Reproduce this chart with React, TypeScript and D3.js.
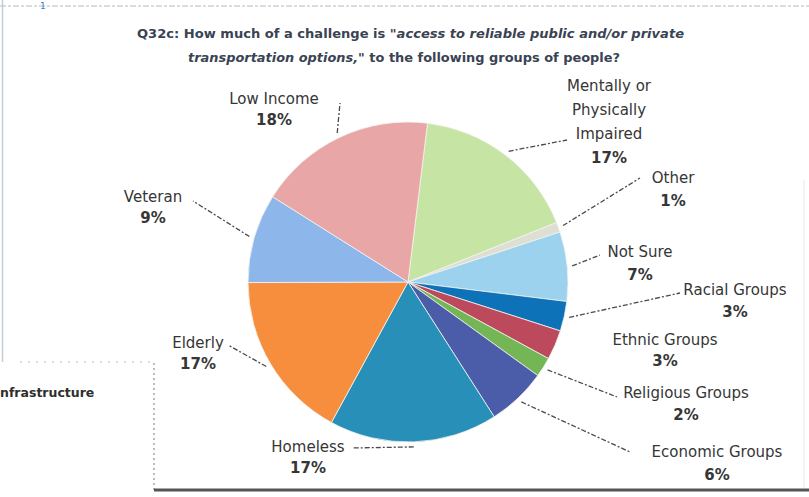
import React from "react";
import * as d3 from "d3";

const categories = [
  "Mentally or Physically Impaired",
  "Other",
  "Not Sure",
  "Racial Groups",
  "Ethnic Groups",
  "Religious Groups",
  "Economic Groups",
  "Homeless",
  "Elderly",
  "Veteran",
  "Low Income",
];
const values = [17, 1, 7, 3, 3, 2, 6, 17, 17, 9, 18];
const labelLines = [
  ["Mentally or", "Physically", "Impaired"],
  ["Other"],
  ["Not Sure"],
  ["Racial Groups"],
  ["Ethnic Groups"],
  ["Religious Groups"],
  ["Economic Groups"],
  ["Homeless"],
  ["Elderly"],
  ["Veteran"],
  ["Low Income"],
];

const colors = [
  "#c6e4a3", "#dcdfd2", "#9dd2ee", "#0d72b8", "#bd4a5c", "#74b655",
  "#4b5da8", "#2890b8", "#f68e3e", "#8db7eb", "#e9a6a6",
];

// label layout: [x center, first baseline, line gap, leader end x, leader end y, showLeader]
const labelLayout: [number, number, number, number, number, boolean][] = [
  [609, 91, 24, 567, 140, true],
  [673, 183, 23, 640, 178, true],
  [640, 257, 23, 600, 255, true],
  [735, 295, 22, 680, 293, true],
  [665, 345, 21, 0, 0, false],
  [686, 398, 22, 617, 397, true],
  [717, 457, 23, 630, 452, true],
  [308, 452, 21, 352, 448, true],
  [198, 348, 21, 228, 345, true],
  [153, 202, 21, 193, 201, true],
  [274, 104, 21, 340, 103, true],
];

const W = 809;
const H = 497;
const cx = 408;
const cy = 282;
const R = 160;
const startDeg = 7;

export default function App() {
  const pie = d3
    .pie<number>()
    .sort(null)
    .startAngle((startDeg * Math.PI) / 180)
    .endAngle((startDeg * Math.PI) / 180 + 2 * Math.PI)
    .value((d) => d);
  const arcs = pie(values);
  const arc = d3.arc<d3.PieArcDatum<number>>().innerRadius(0).outerRadius(R);
  const font = "'DejaVu Sans', Verdana, sans-serif";

  return (
    <svg
      width={W}
      height={H}
      style={{ position: "absolute", left: 0, top: 0, background: "#fff" }}
    >
      {/* scan artifacts / page elements */}
      <line x1={0} x2={W} y1={6} y2={6} stroke="#b4b8c0" strokeWidth={1} strokeDasharray="6 2 3 2" />
      <text x={40} y={9} fontSize={9} fill="#3a7fd0" fontFamily={font}>1</text>
      <line x1={2.5} x2={2.5} y1={0} y2={362} stroke="#c4ccd6" strokeWidth={1.5} />
      <line x1={20} x2={150} y1={362} y2={362} stroke="#bbb" strokeWidth={1} strokeDasharray="2 6" />
      <text x={0} y={397} fontSize={12.5} fontWeight="bold" fill="#2e2e2e" fontFamily={font}>nfrastructure</text>
      <line x1={154} x2={154} y1={363} y2={490} stroke="#777" strokeWidth={1} strokeDasharray="2 3" />
      <line x1={154} x2={W} y1={490} y2={490} stroke="#555" strokeWidth={3} />
      <line x1={804} x2={804} y1={180} y2={488} stroke="#e8e8e8" strokeWidth={1} />

      {/* title */}
      <g fontFamily={font} fontSize={12} fontWeight="bold" fill="#3a4353">
        <text x={137} y={38} textLength={547} lengthAdjust="spacingAndGlyphs">
          Q32c: How much of a challenge is "
          <tspan fontStyle="italic">access to reliable public and/or private</tspan>
        </text>
        <text x={188} y={62} textLength={432} lengthAdjust="spacingAndGlyphs">
          <tspan fontStyle="italic">transportation options,</tspan>" to the following groups of people?
        </text>
      </g>

      {/* pie */}
      <g transform={`translate(${cx},${cy})`}>
        {arcs.map((a, i) => (
          <path key={categories[i]} d={arc(a) || ""} fill={colors[i]} stroke="#f4f4f0" strokeWidth={0.8} />
        ))}
      </g>

      {/* leaders */}
      {arcs.map((a, i) => {
        const [, , , ex, ey, show] = labelLayout[i];
        if (!show) return null;
        const mid = (a.startAngle + a.endAngle) / 2;
        const sx = cx + Math.sin(mid) * (R + 5);
        const sy = cy - Math.cos(mid) * (R + 5);
        return (
          <line
            key={"l" + i}
            x1={sx}
            y1={sy}
            x2={ex}
            y2={ey}
            stroke="#4a4a4a"
            strokeWidth={1.3}
            strokeDasharray="5 2 2 2"
          />
        );
      })}

      {/* labels */}
      {arcs.map((a, i) => {
        const [lx, ly, gap] = labelLayout[i];
        const lines = labelLines[i];
        return (
          <text
            key={"t" + i}
            textAnchor="middle"
            fontFamily={font}
            fontSize={15}
            fill="#363636"
          >
            {lines.map((s, j) => (
              <tspan key={j} x={lx} y={ly + j * gap}>
                {s}
              </tspan>
            ))}
            <tspan x={lx} y={ly + lines.length * gap} fontWeight="bold">
              {`${a.data}%`}
            </tspan>
          </text>
        );
      })}
    </svg>
  );
}
